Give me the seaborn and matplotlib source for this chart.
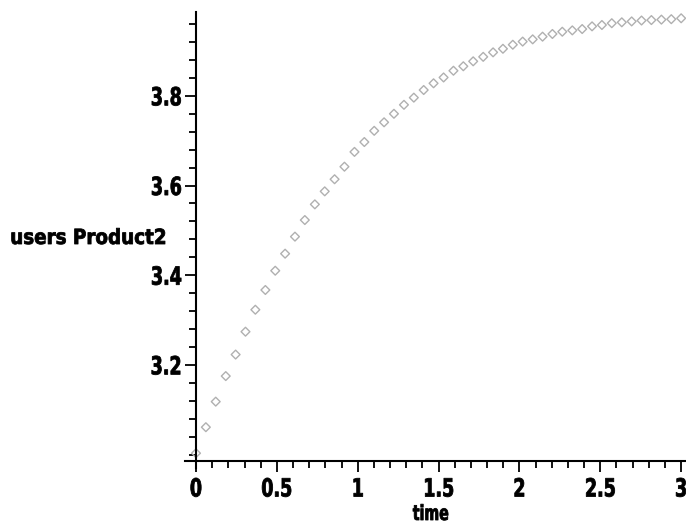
### Maple-style point plot of users of Product2 over time, redone with seaborn.

import matplotlib
matplotlib.use('Agg')
import matplotlib.pyplot as plt
import seaborn as sns
import pandas as pd
from matplotlib.ticker import MultipleLocator, FixedLocator, FixedFormatter
from matplotlib.patheffects import AbstractPathEffect
from matplotlib.transforms import Affine2D

sns.set_style('white')
plt.rcParams['font.family'] = ['DejaVu Sans']
plt.rcParams['font.weight'] = 'bold'
for key in ['text.color', 'axes.labelcolor', 'xtick.color', 'ytick.color']:
  plt.rcParams[key] = 'black'

# data
time = [0.000, 0.061, 0.122, 0.184, 0.245, 0.306, 0.367, 0.429, 0.490, 0.551,
        0.612, 0.673, 0.735, 0.796, 0.857, 0.918, 0.980, 1.041, 1.102, 1.163,
        1.224, 1.286, 1.347, 1.408, 1.469, 1.531, 1.592, 1.653, 1.714, 1.776,
        1.837, 1.898, 1.959, 2.020, 2.082, 2.143, 2.204, 2.265, 2.327, 2.388,
        2.449, 2.510, 2.571, 2.633, 2.694, 2.755, 2.816, 2.878, 2.939, 3.000]
users_product2 = [3.003, 3.061, 3.118, 3.175, 3.223, 3.274, 3.323, 3.367, 3.410, 3.448,
                  3.486, 3.523, 3.558, 3.587, 3.614, 3.642, 3.675, 3.697, 3.722, 3.741,
                  3.760, 3.780, 3.796, 3.813, 3.828, 3.841, 3.856, 3.866, 3.877, 3.887,
                  3.897, 3.905, 3.914, 3.921, 3.926, 3.932, 3.938, 3.943, 3.946, 3.949,
                  3.955, 3.958, 3.962, 3.964, 3.966, 3.968, 3.969, 3.970, 3.971, 3.973]

x_ticks = [0, 0.5, 1, 1.5, 2, 2.5, 3]
x_tick_labels = ['0', '0.5', '1', '1.5', '2', '2.5', '3']
y_ticks = [3.2, 3.4, 3.6, 3.8]
y_tick_labels = ['3.2', '3.4', '3.6', '3.8']


class Squeeze(AbstractPathEffect):
  """
  Narrow (and slightly fatten) the glyphs, as no condensed black font is installed.
  """
  def __init__(self, sx=0.7, anchor='center', stroke=0.6):
    super().__init__()
    self.sx = sx
    self.anchor = anchor
    self.stroke = stroke

  def draw_path(self, renderer, gc, tpath, affine, rgbFace=None):
    ext = tpath.get_extents()
    if self.anchor == 'right':
      cx = ext.x1
    elif self.anchor == 'left':
      cx = ext.x0
    else:
      cx = (ext.x0 + ext.x1) / 2
    squeeze = Affine2D().translate(-cx, 0).scale(self.sx, 1).translate(cx, 0)
    gc0 = renderer.new_gc()
    gc0.copy_properties(gc)
    gc0.set_linewidth(self.stroke)
    if rgbFace is not None:
      gc0.set_foreground(rgbFace)
    renderer.draw_path(gc0, tpath, squeeze + affine, rgbFace)
    gc0.restore()


df = pd.DataFrame({'time': time, 'users Product2': users_product2})

fig = plt.figure(figsize=(6.86, 5.27), dpi=100)
ax = fig.add_axes([185 / 686, 59 / 527, 501 / 686, 456 / 527])

sns.scatterplot(data=df, x='time', y='users Product2', ax=ax, marker='D', s=20,
                facecolor='none', edgecolor='#b0b0b0', linewidth=1.0, legend=False)

ax.set_xlim(-0.068, 3.03)
ax.set_ylim(2.970, 3.987)

# axes cross like in Maple
ax.spines['left'].set_position(('data', 0))
ax.spines['bottom'].set_position(('data', 2.986))
for side in ['top', 'right']:
  ax.spines[side].set_visible(False)
for side in ['left', 'bottom']:
  ax.spines[side].set_linewidth(1.5)
  ax.spines[side].set_color('black')

ax.xaxis.set_major_locator(FixedLocator(x_ticks))
ax.xaxis.set_major_formatter(FixedFormatter(x_tick_labels))
ax.xaxis.set_minor_locator(MultipleLocator(0.1))
ax.yaxis.set_major_locator(FixedLocator(y_ticks))
ax.yaxis.set_major_formatter(FixedFormatter(y_tick_labels))
ax.yaxis.set_minor_locator(MultipleLocator(0.04))

ax.tick_params(which='both', direction='out', width=1.3, color='black',
               left=True, bottom=True)
ax.tick_params(axis='x', which='major', length=8, pad=4, labelsize=18)
ax.tick_params(axis='y', which='major', length=8, pad=2, labelsize=18)
ax.tick_params(which='minor', length=5)

ax.set_xlabel('')
ax.set_ylabel('')

fig.canvas.draw()
for lab in ax.get_xticklabels():
  lab.set_path_effects([Squeeze(0.7)])
for lab in ax.get_yticklabels():
  lab.set_path_effects([Squeeze(0.7, anchor='right')])

fig.text(10 / 686, 1 - 238 / 527, 'users Product2', ha='left', va='center',
         fontsize=15, path_effects=[Squeeze(0.88, anchor='left')])
fig.text(431 / 686, 1 - 514 / 527, 'time', ha='center', va='center',
         fontsize=15, path_effects=[Squeeze(0.68)])

fig.savefig('out.png', dpi=100)
